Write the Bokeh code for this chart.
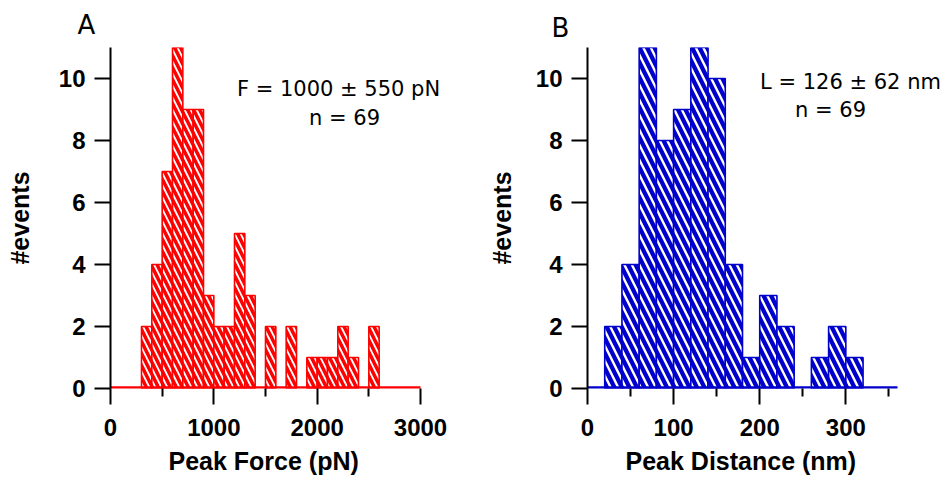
import numpy as np
from bokeh.plotting import figure
from bokeh.layouts import row
from bokeh.models import FixedTicker, Label, ColumnDataSource, Range1d, Title
from bokeh.embed import file_html
from bokeh.resources import INLINE

# ---------------- data ----------------
# Panel A: histogram of peak force (pN), bins of 100 pN starting at 0
force_bin_start = 0
force_bin_width = 100
force_counts = [0, 0, 0, 2, 4, 7, 11, 9, 9, 3, 2, 2, 5, 3, 0,
                2, 0, 2, 0, 1, 1, 1, 2, 1, 0, 2, 0, 0, 0, 0]
force_xmax = 3000
force_major_ticks = [0, 1000, 2000, 3000]
force_minor_ticks = [500, 1500, 2500]
force_xlabel = "Peak Force (pN)"
force_stat = "F = 1000 ± 550 pN"

# Panel B: histogram of peak distance (nm), bins of 20 nm starting at 0
dist_bin_start = 0
dist_bin_width = 20
dist_counts = [0, 2, 4, 11, 8, 9, 11, 10, 4, 1, 3, 2, 0, 1, 2, 1, 0, 0]
dist_xmax = 360
dist_major_ticks = [0, 100, 200, 300]
dist_minor_ticks = [50, 150, 250, 350]
dist_xlabel = "Peak Distance (nm)"
dist_stat = "L = 126 ± 62 nm"

n_events = 69
y_max = 11
y_ticks = [0, 2, 4, 6, 8, 10]
y_label = "#events"

TICK_FONT = "Liberation Sans"
ANN_FONT = "DejaVu Sans"

AXIS_PX = 310  # pixel length of the drawn x axis (0 .. xmax)


def panel(counts, bin_start, bin_width, xmax, major, minor, xlabel, stat,
          letter, color, hatch_scale, hatch_weight, width, bl, frame_w, bt, bb,
          ylabel_standoff, stat_pos, n_pos, letter_offset, letter_standoff,
          xlabel_offset):
    counts = np.array(counts)
    edges = bin_start + bin_width * np.arange(len(counts) + 1)
    mask = counts > 0
    src = ColumnDataSource(dict(left=edges[:-1][mask], right=edges[1:][mask],
                                top=counts[mask]))
    # the frame is a bit wider than the axis so the statistics text fits
    x_view_end = xmax * frame_w / AXIS_PX
    p = figure(width=width, height=480, x_range=Range1d(0, x_view_end),
               y_range=Range1d(0, y_max), output_backend="svg",
               toolbar_location=None, min_border_left=bl,
               min_border_right=width - bl - frame_w,
               min_border_top=bt, min_border_bottom=bb, title=letter)
    p.outline_line_color = None
    p.grid.visible = False
    p.background_fill_color = "white"
    p.border_fill_color = "white"

    p.title.align = "left"
    p.title.offset = letter_offset
    p.title.standoff = letter_standoff
    p.title.text_font = ANN_FONT
    p.title.text_font_size = "26px"
    p.title.text_font_style = "normal"
    p.title.text_color = "black"

    p.quad(left="left", right="right", bottom=0, top="top", source=src,
           fill_color=color, line_color=color, line_width=1.6,
           hatch_pattern="\\", hatch_color="white",
           hatch_weight=hatch_weight, hatch_scale=hatch_scale)
    # zero line of the histogram over the whole axis
    p.segment(x0=[edges[0]], y0=[0], x1=[edges[-1]], y1=[0],
              line_color=color, line_width=4.5)

    xa = p.xaxis[0]
    xa.ticker = FixedTicker(ticks=major, minor_ticks=minor)
    xa.axis_line_color = None
    xa.major_tick_line_color = "black"
    xa.major_tick_line_width = 2
    xa.major_tick_out = 16
    xa.major_tick_in = 0
    xa.minor_tick_line_color = "black"
    xa.minor_tick_line_width = 2
    xa.minor_tick_out = 8
    xa.minor_tick_in = 0
    xa.major_label_standoff = 14
    xa.major_label_text_font = TICK_FONT
    xa.major_label_text_font_style = "bold"
    xa.major_label_text_font_size = "24px"
    xa.major_label_text_color = "black"

    # x-axis title, placed under the drawn axis (not the wider frame)
    xt = Title(text=xlabel, align="left", offset=xlabel_offset,
               standoff=12, text_font=TICK_FONT, text_font_size="25px",
               text_font_style="bold", text_color="black")
    p.add_layout(xt, "below")

    ya = p.yaxis[0]
    ya.ticker = FixedTicker(ticks=y_ticks, minor_ticks=[])
    ya.axis_line_color = "black"
    ya.axis_line_width = 2
    ya.major_tick_line_color = "black"
    ya.major_tick_line_width = 2
    ya.major_tick_out = 16
    ya.major_tick_in = 0
    ya.minor_tick_line_color = None
    ya.major_label_standoff = 9
    ya.major_label_text_font = TICK_FONT
    ya.major_label_text_font_style = "bold"
    ya.major_label_text_font_size = "24px"
    ya.major_label_text_color = "black"
    ya.axis_label = y_label
    ya.axis_label_text_font = TICK_FONT
    ya.axis_label_text_font_style = "bold"
    ya.axis_label_text_font_size = "25px"
    ya.axis_label_text_color = "black"
    ya.axis_label_standoff = ylabel_standoff

    # texts placed in screen pixels relative to the plot frame
    p.add_layout(Label(x=stat_pos[0], y=stat_pos[1], text=stat,
                       x_units="screen", y_units="screen",
                       text_align="center", text_baseline="alphabetic",
                       text_font=ANN_FONT, text_font_size="21px",
                       text_color="black"))
    p.add_layout(Label(x=n_pos[0], y=n_pos[1], text=f"n = {n_events}",
                       x_units="screen", y_units="screen",
                       text_align="center", text_baseline="alphabetic",
                       text_font=ANN_FONT, text_font_size="21px",
                       text_color="black"))
    return p


pA = panel(force_counts, force_bin_start, force_bin_width, force_xmax,
           force_major_ticks, force_minor_ticks, force_xlabel, force_stat,
           "A", "#FF0000", 12, 1.9, 480, 110, 335, 46, 91, 22,
           (228, 300), (234, 271), -33, 15, 58)
pB = panel(dist_counts, dist_bin_start, dist_bin_width, dist_xmax,
           dist_major_ticks, dist_minor_ticks, dist_xlabel, dist_stat,
           "B", "#0000CC", 15, 2.4, 466, 107, 359, 39, 91, 17,
           (263, 307), (243, 279), -36, 9, 38)

layout = row(pA, pB)
open("out.html", "w").write(file_html(layout, INLINE))
